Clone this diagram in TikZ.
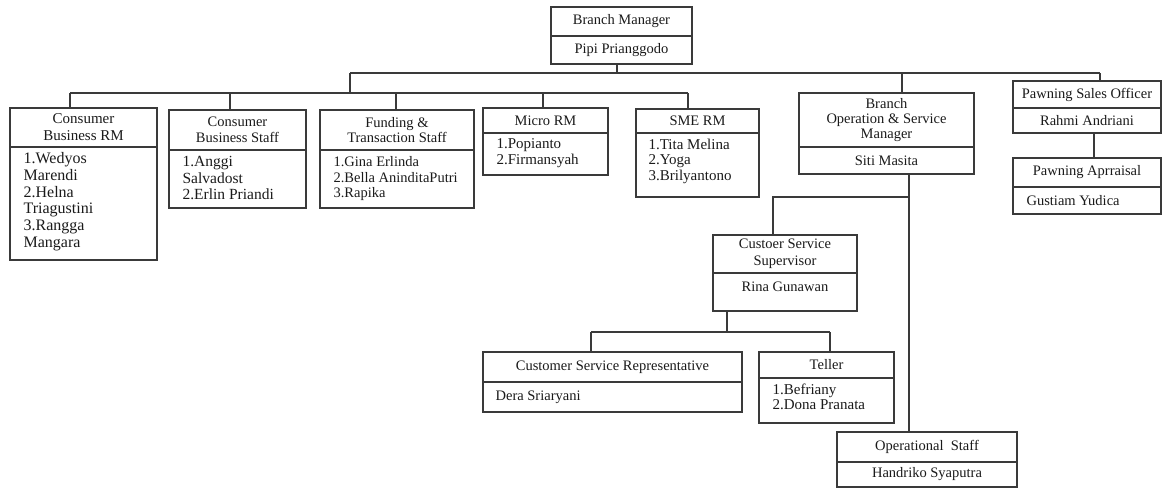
\documentclass[tikz,border=0pt]{standalone}
\usepackage{fontspec}
\setmainfont{Liberation Serif}
\definecolor{linec}{HTML}{3A3A3A}
\definecolor{txtc}{HTML}{1A1A1A}
\tikzset{
  part/.style={draw=linec, line width=1.2pt, inner sep=0pt, rectangle, align=center,
    text=txtc, font=\fontsize{14.5}{16}\selectfont},
  listtxt/.style={inner sep=0pt, align=left, text=txtc, anchor=north west,
    font=\fontsize{15}{15.5}\selectfont},
  onetxt/.style={inner sep=0pt, text=txtc, anchor=west, font=\fontsize{14.5}{16}\selectfont},
  conn/.style={draw=linec, line width=1.2pt}
}
\newcommand{\boxpart}[7][]{\node[part, minimum width={(#5-#3)*1pt}, minimum height={(#6-#4)*1pt}, #1] (#2) at ({(#3+#5)/2},{(#4+#6)/2}) {#7};}
\begin{document}
\begin{tikzpicture}[x=1pt,y=-1pt]
\useasboundingbox (0,0) rectangle (1163,488);
% Branch Manager
\boxpart{bm-h}{551}{7}{692}{36}{Branch Manager}
\boxpart{bm-b}{551}{36}{692}{64}{Pipi Prianggodo}
% Consumer Business RM
\boxpart[font=\fontsize{15}{17}\selectfont]{cbrm-h}{10}{108}{157}{147}{Consumer\\Business RM}
\boxpart{cbrm-b}{10}{147}{157}{260}{}
\node[listtxt, font=\fontsize{16}{16.7}\selectfont] (cbrm-t) at ([xshift=14pt,yshift=-6pt]cbrm-b.north west) {1.Wedyos\\Marendi\\2.Helna\\Triagustini\\3.Rangga\\Mangara};
% Consumer Business Staff
\boxpart{cbs-h}{169}{110}{306}{150}{Consumer\\Business Staff}
\boxpart{cbs-b}{169}{150}{306}{208}{}
\node[listtxt, font=\fontsize{15.5}{16.3}\selectfont] (cbs-t) at ([xshift=14pt,yshift=-7pt]cbs-b.north west) {1.Anggi\\Salvadost\\2.Erlin Priandi};
% Funding & Transaction Staff
\boxpart[font=\fontsize{14.5}{15}\selectfont]{fts-h}{320}{110}{474}{150}{Funding \&\\Transaction Staff}
\boxpart{fts-b}{320}{150}{474}{208}{}
\node[listtxt, font=\fontsize{14.5}{15.5}\selectfont] (fts-t) at ([xshift=14pt,yshift=-7pt]fts-b.north west) {1.Gina Erlinda\\2.Bella AninditaPutri\\3.Rapika};
% Micro RM
\boxpart{mrm-h}{483}{108}{608}{133}{Micro RM}
\boxpart{mrm-b}{483}{133}{608}{175}{}
\node[listtxt] (mrm-t) at ([xshift=14pt,yshift=-6pt]mrm-b.north west) {1.Popianto\\2.Firmansyah};
% SME RM
\boxpart{sme-h}{636}{109}{759}{133}{SME RM}
\boxpart{sme-b}{636}{133}{759}{197}{}
\node[listtxt] (sme-t) at ([xshift=13pt,yshift=-6pt]sme-b.north west) {1.Tita Melina\\2.Yoga\\3.Brilyantono};
% Branch Operation & Service Manager
\boxpart[font=\fontsize{14.5}{15}\selectfont]{bosm-h}{799}{93}{974}{147}{Branch\\Operation \& Service\\Manager}
\boxpart{bosm-b}{799}{147}{974}{174}{Siti Masita}
% Pawning Sales Officer
\boxpart{pso-h}{1013}{81}{1161}{108}{Pawning Sales Officer}
\boxpart{pso-b}{1013}{108}{1161}{133}{Rahmi Andriani}
% Pawning Apraisal
\boxpart{pa-h}{1013}{158}{1161}{187}{Pawning Aprraisal}
\boxpart{pa-b}{1013}{187}{1161}{214}{}
\node[onetxt] (pa-t) at ([xshift=14pt]pa-b.west) {Gustiam Yudica};
% Customer Service Supervisor
\boxpart[font=\fontsize{14.5}{17}\selectfont]{css-h}{713}{235}{857}{273}{Custoer Service\\Supervisor}
\boxpart{css-b}{713}{273}{857}{311}{}
\node[inner sep=0pt, text=txtc, font=\fontsize{14.5}{16}\selectfont] (css-t) at ([yshift=-14pt]css-b.north) {Rina Gunawan};
% Customer Service Representative
\boxpart{csr-h}{483}{352}{742}{382}{Customer Service Representative}
\boxpart{csr-b}{483}{382}{742}{412}{}
\node[onetxt] (csr-t) at ([xshift=13pt]csr-b.west) {Dera Sriaryani};
% Teller
\boxpart{tel-h}{759}{352}{894}{378}{Teller}
\boxpart{tel-b}{759}{378}{894}{423}{}
\node[listtxt] (tel-t) at ([xshift=14pt,yshift=-6pt]tel-b.north west) {1.Befriany\\2.Dona Pranata};
% Operational Staff
\boxpart{os-h}{837}{432}{1017}{462}{Operational\ \ Staff}
\boxpart{os-b}{837}{462}{1017}{487}{Handriko Syaputra}
% connectors
\coordinate (jBM) at (617,73);
\coordinate (jT1) at (350,73);
\coordinate (jT2) at (1100,73);
\coordinate (jL1) at (70,93);
\coordinate (jL2) at (688,93);
\coordinate (s2) at (230,93);
\coordinate (s3) at (396,93);
\coordinate (s4) at (543,93);
\coordinate (s6) at (902,73);
\coordinate (s7) at (1094,0);
\coordinate (v1) at (909,0);
\coordinate (h1) at (909,197);
\coordinate (h2) at (773,197);
\coordinate (c1) at (727,332);
\coordinate (c2) at (591,332);
\coordinate (c3) at (830,332);
\draw[conn] (jBM |- bm-b.south) -- (jBM);
\draw[conn] (jT1) -- (jT2);
\draw[conn] (jT1) -- (jT1 |- jL1);
\draw[conn] (jL1) -- (jL2);
\draw[conn] (jL1) -- (jL1 |- cbrm-h.north);
\draw[conn] (s2) -- (s2 |- cbs-h.north);
\draw[conn] (s3) -- (s3 |- fts-h.north);
\draw[conn] (s4) -- (s4 |- mrm-h.north);
\draw[conn] (jL2) -- (jL2 |- sme-h.north);
\draw[conn] (s6) -- (s6 |- bosm-h.north);
\draw[conn] (jT2) -- (jT2 |- pso-h.north);
\draw[conn] (s7 |- pso-b.south) -- (s7 |- pa-h.north);
\draw[conn] (v1 |- bosm-b.south) -- (v1 |- os-h.north);
\draw[conn] (h1) -- (h2) -- (h2 |- css-h.north);
\draw[conn] (c1 |- css-b.south) -- (c1);
\draw[conn] (c2) -- (c3);
\draw[conn] (c2) -- (c2 |- csr-h.north);
\draw[conn] (c3) -- (c3 |- tel-h.north);
\end{tikzpicture}
\end{document}
